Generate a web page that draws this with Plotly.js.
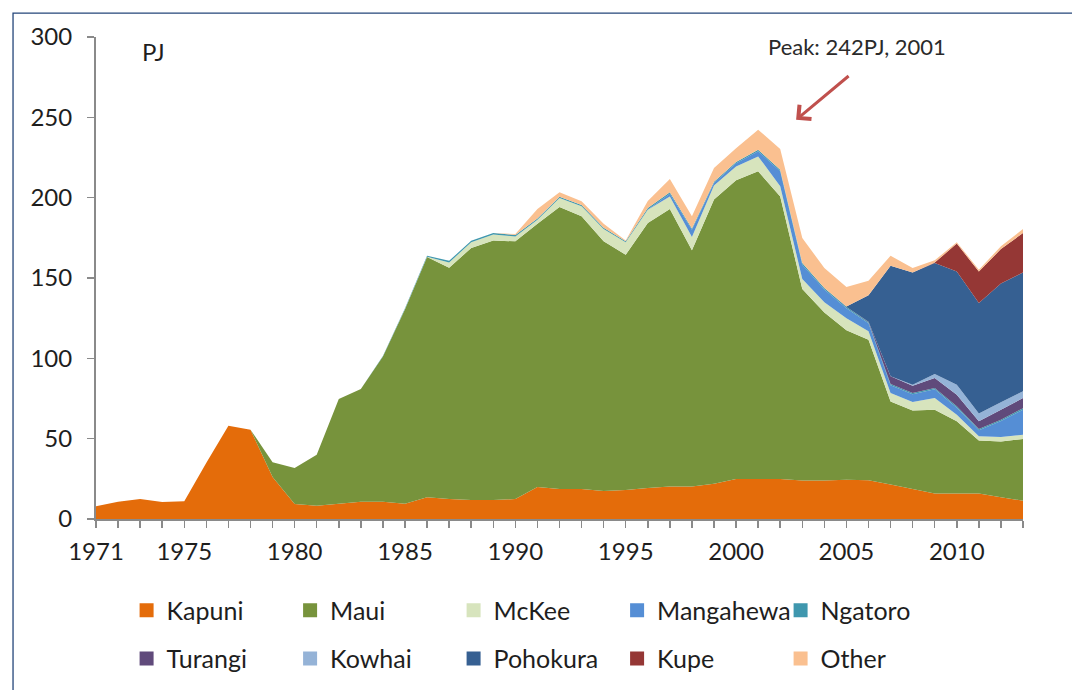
<!DOCTYPE html>
<html>
<head>
<meta charset="utf-8">
<script src="https://cdn.plot.ly/plotly-3.0.1.min.js"></script>
<style>html,body{margin:0;padding:0;background:#fff;}#chart{width:1072px;height:690px;}</style>
</head>
<body>
<div id="chart"></div>
<script>
const years = [];
for (let y = 1971; y <= 2013; y++) years.push(y);

const kapuni = [7.9,10.8,12.4,10.6,11.0,35.0,58.1,55.6,26.1,9.3,
  8.3,9.5,10.8,10.8,9.5,13.5,12.4,11.8,11.8,12.4,
  19.9,18.7,18.7,17.4,18.0,19.3,20.3,20.3,22.0,24.9,
  24.9,24.9,23.9,23.9,24.5,24.1,21.4,18.7,15.8,15.8,
  15.8,13.5,11.4];
const maui = [0,0,0,0,0,0,0,0,9.2,22.4,
  31.7,65.2,70.1,90.4,121.0,149.5,144.0,156.9,161.6,160.4,
  163.9,175.5,169.7,155.4,146.5,164.9,172.7,146.9,176.8,186.0,
  191.5,175.9,119.3,104.7,93.0,87.5,51.8,48.9,52.2,45.0,
  33.0,34.8,38.4];
const mckee = [0,0,0,0,0,0,0,0,0,0,
  0,0,0,0,0.2,0.3,3.3,3.5,3.6,3.1,
  2.5,5.6,6.2,7.7,7.7,8.3,7.8,8.3,8.7,8.5,
  9.3,6.3,6.2,6.3,7.5,5.2,5.2,5.2,7.3,4.1,
  2.7,2.7,2.7];
const mangahewa = [0,0,0,0,0,0,0,0,0,0,
  0,0,0,0,0,0,0,0,0,0,
  0,0,0,0,0,0.2,1.7,4.5,1.6,2.0,
  3.2,9.3,8.9,8.0,6.2,5.0,4.8,4.8,5.4,4.4,
  3.7,10.0,15.5];
const ngatoro = [0,0,0,0,0,0,0,0,0,0,
  0,0,0,0.3,0.5,0.6,1.0,1.0,1.0,0.9,
  0.8,0.8,0.8,0.8,0.7,0.8,0.8,0.8,0.8,0.8,
  1.0,1.0,1.0,0.9,0.8,0.6,0.8,0.8,0.8,0.8,
  0.8,0.8,1.0];
const turangi = [0,0,0,0,0,0,0,0,0,0,
  0,0,0,0,0,0,0,0,0,0,
  0,0,0,0,0,0,0,0,0,0,
  0,0,0,0,0,0.4,4.8,4.6,6.2,7.3,
  4.8,6.2,6.3];
const kowhai = [0,0,0,0,0,0,0,0,0,0,
  0,0,0,0,0,0,0,0,0,0,
  0,0,0,0,0,0,0,0,0,0,
  0,0,0,0,0,0,0,0.5,2.5,6.2,
  4.8,4.6,4.2];
const pohokura = [0,0,0,0,0,0,0,0,0,0,
  0,0,0,0,0,0,0,0,0,0,
  0,0,0,0,0,0,0,0,0,0,
  0,0,0,0,0.3,16.5,68.9,70.0,69.1,70.5,
  68.8,73.9,74.0];
const kupe = [0,0,0,0,0,0,0,0,0,0,
  0,0,0,0,0,0,0,0,0,0,
  0,0,0,0,0,0,0,0,0,0,
  0,0,0,0,0,0,0,0,0.3,17.3,
  19.7,21.5,24.5];
const other = [0,0,0,0,0,0,0,0,0,0,
  0,0,0,0,0,0,0,0,0,0.6,
  5.9,2.7,2.3,2.5,0.5,4.4,8.3,7.6,8.6,8.5,
  12.4,12.9,15.6,12.4,12.1,9.0,6.2,2.7,1.4,0.8,
  1.1,1.7,2.5];

const seriesNames = ["Kapuni","Maui","McKee","Mangahewa","Ngatoro","Turangi","Kowhai","Pohokura","Kupe","Other"];
const seriesValues = [kapuni,maui,mckee,mangahewa,ngatoro,turangi,kowhai,pohokura,kupe,other];
const seriesColors = ["#E46C0A","#77933C","#D7E4BD","#558ED5","#3F97AE","#604A7B","#95B3D7","#366092","#953735","#FAC090"];

const xTickVals = [1971,1975,1980,1985,1990,1995,2000,2005,2010];
const yTickVals = [0,50,100,150,200,250,300];

const FONT = "Lato, 'Open Sans', sans-serif";
const TXT = "#1e1e1e";

const traces = [];
seriesNames.forEach((name, i) => {
  traces.push({
    type: "scatter", x: years, y: seriesValues[i], name: name,
    stackgroup: "one", mode: "none", fillcolor: seriesColors[i],
    showlegend: false, hoverinfo: "skip"
  });
});
seriesNames.forEach((name, i) => {
  traces.push({
    type: "scatter", x: [null], y: [null], name: name, mode: "markers",
    marker: {symbol: "square", size: 14, color: seriesColors[i]},
    showlegend: true, legend: i < 5 ? "legend" : "legend2", hoverinfo: "skip"
  });
});

const legendCommon = {
  orientation: "h", entrywidth: 118.5, entrywidthmode: "pixels", traceorder: "normal",
  font: {family: FONT, size: 25, color: TXT},
  bgcolor: "rgba(0,0,0,0)", xref: "paper", yref: "paper",
  xanchor: "left", yanchor: "middle", itemclick: false, itemdoubleclick: false,
  tracegroupgap: 0
};

const layout = {
  width: 1072, height: 690,
  margin: {l: 96, r: 49, t: 37, b: 171, autoexpand: false},
  paper_bgcolor: "#ffffff", plot_bgcolor: "#ffffff",
  font: {family: FONT, size: 24, color: TXT},
  hovermode: false,
  xaxis: {
    range: [1971, 2013], tickvals: xTickVals, ticktext: xTickVals.map(String),
    showgrid: false, zeroline: false, showline: true, linecolor: "#8a8a8a", linewidth: 2,
    ticks: "outside", ticklen: 7, tickwidth: 1.5, tickcolor: "#8a8a8a",
    minor: {dtick: 1, tick0: 1971, ticks: "outside", ticklen: 7, tickwidth: 1.5, tickcolor: "#8a8a8a", showgrid: false},
    tickfont: {family: FONT, size: 24, color: TXT}, ticklabelstandoff: 3
  },
  yaxis: {
    range: [0, 300], tickvals: yTickVals,
    showgrid: false, zeroline: false, showline: true, linecolor: "#8a8a8a", linewidth: 2,
    ticks: "outside", ticklen: 7, tickwidth: 1.5, tickcolor: "#8a8a8a",
    tickfont: {family: FONT, size: 24, color: TXT}, ticklabelstandoff: 10
  },
  legend: Object.assign({}, legendCommon, {x: 0.033, y: -0.19}),
  legend2: Object.assign({}, legendCommon, {x: 0.033, y: -0.29}),
  annotations: [
    {xref: "paper", yref: "paper", x: 0.062, y: 0.97, text: "PJ", showarrow: false,
     xanchor: "center", yanchor: "middle", font: {family: FONT, size: 24, color: TXT}},
    {xref: "paper", yref: "paper", x: 0.821, y: 0.98, text: "Peak: 242PJ, 2001", showarrow: false,
     xanchor: "center", yanchor: "middle", font: {family: FONT, size: 22, color: "#2a2a2a"}},
    {xref: "x", yref: "y", x: 2002.72, y: 248.5, text: "", showarrow: true,
     ax: 54, ay: -45, arrowhead: 4, arrowsize: 1.2, arrowwidth: 3, arrowcolor: "#C0504D"}
  ],
  shapes: [
    {type: "rect", xref: "paper", yref: "paper", x0: -0.0895, x1: 1.07, y0: -0.40, y1: 1.0495,
     line: {color: "#24467A", width: 1.3}, fillcolor: "rgba(0,0,0,0)", layer: "below"}
  ]
};

Plotly.newPlot("chart", traces, layout, {staticPlot: true, displayModeBar: false});
</script>
</body>
</html>
